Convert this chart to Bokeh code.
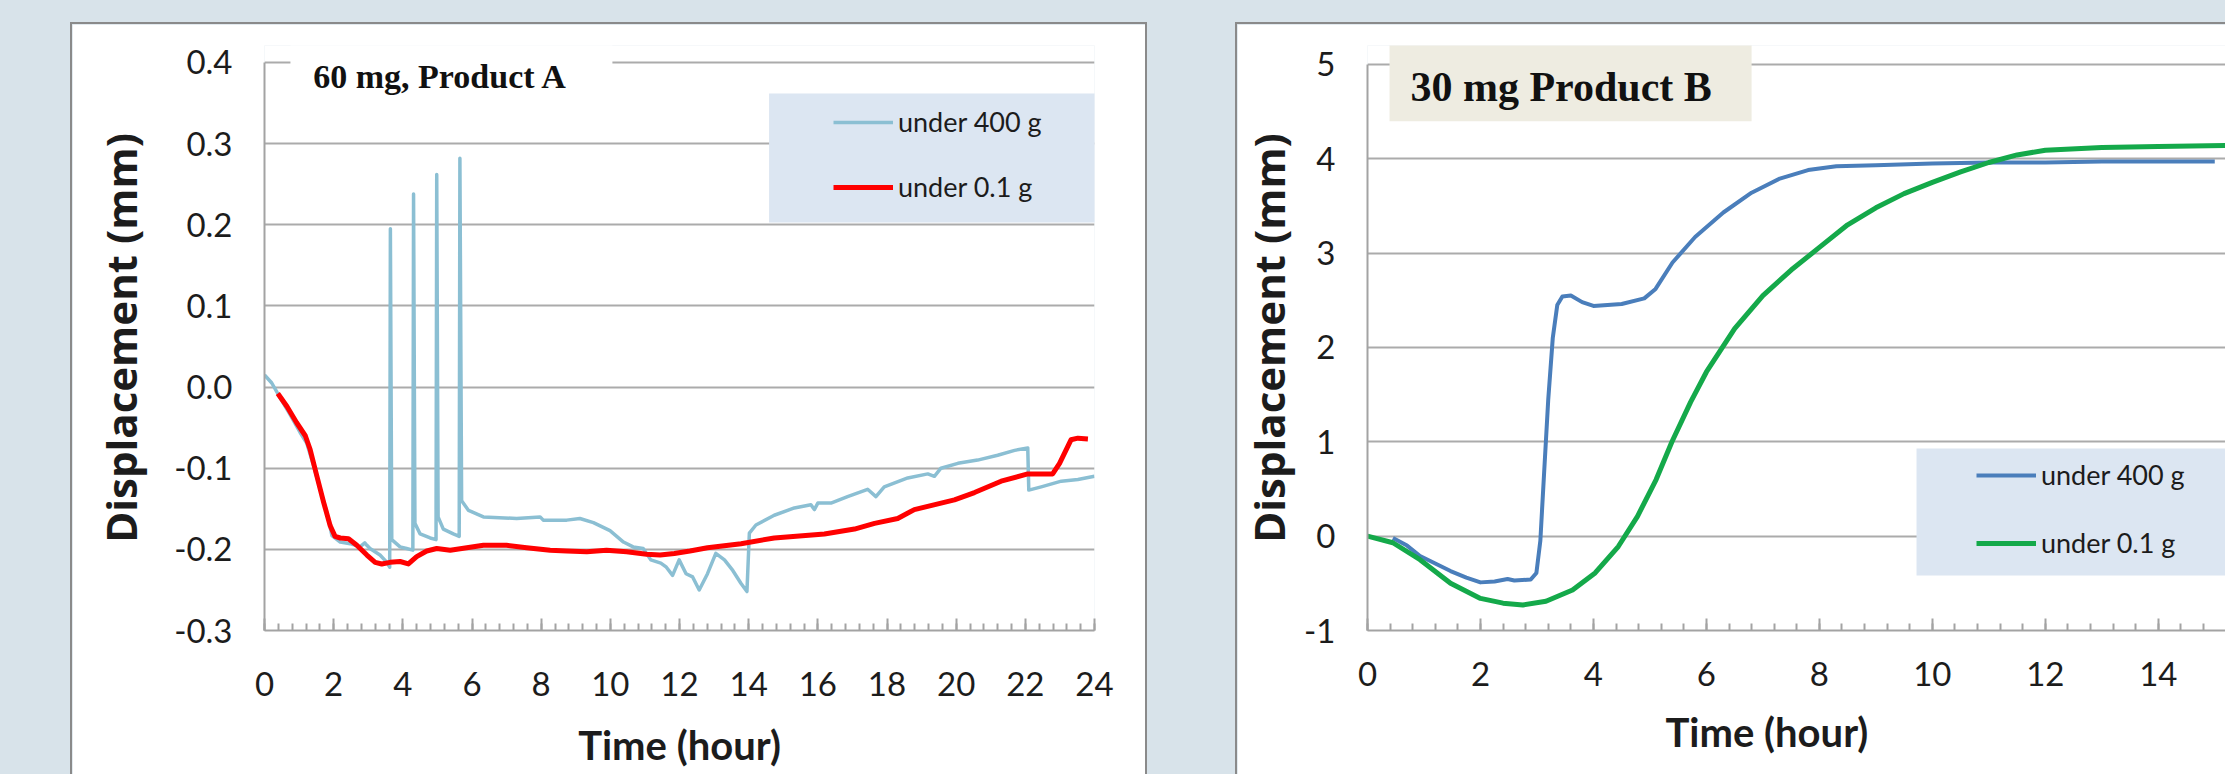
from bokeh.plotting import figure
from bokeh.layouts import row
from bokeh.models import (Range1d, FixedTicker, SingleIntervalTicker, PrintfTickFormatter,
                          Legend, LegendItem, BoxAnnotation, Label, Title, ColumnDataSource)
from bokeh.embed import file_html
from bokeh.resources import INLINE

# ---------------- Product A, 60 mg ----------------
a_time_400 = [0.00, 0.21, 0.45, 0.74, 1.03, 1.22, 1.42, 1.61, 1.80, 1.95, 2.19, 2.48, 2.76, 2.90,
              2.96, 3.05, 3.34, 3.54, 3.62, 3.64, 3.68, 3.92, 4.11, 4.29, 4.31, 4.35, 4.50, 4.79,
              4.96, 4.98, 5.02, 5.17, 5.46, 5.63, 5.65, 5.70, 5.90, 6.33, 7.29, 7.97, 8.06, 8.74,
              9.12, 9.51, 9.99, 10.38, 10.66, 10.95, 11.17, 11.46, 11.62, 11.80, 11.99, 12.19,
              12.38, 12.57, 12.81, 13.05, 13.30, 13.54, 13.78, 13.95, 14.02, 14.21, 14.74, 15.32,
              15.80, 15.90, 16.00, 16.38, 16.86, 17.44, 17.68, 17.92, 18.60, 19.18, 19.37, 19.56,
              20.05, 20.62, 21.20, 21.69, 22.07, 22.10, 22.46, 23.04, 23.52, 24.00]
a_disp_400 = [0.015, 0.005, -0.013, -0.034, -0.056, -0.069, -0.097, -0.126, -0.154, -0.183, -0.191,
              -0.193, -0.197, -0.192, -0.195, -0.199, -0.207, -0.216, -0.222, 0.195, -0.188, -0.197,
              -0.199, -0.201, 0.238, -0.168, -0.181, -0.186, -0.188, 0.262, -0.160, -0.175, -0.181,
              -0.184, 0.282, -0.140, -0.152, -0.160, -0.162, -0.160, -0.164, -0.164, -0.162, -0.167,
              -0.177, -0.191, -0.197, -0.199, -0.213, -0.217, -0.222, -0.232, -0.213, -0.230, -0.234,
              -0.250, -0.230, -0.205, -0.213, -0.226, -0.242, -0.252, -0.180, -0.170, -0.158, -0.149,
              -0.145, -0.151, -0.143, -0.143, -0.135, -0.126, -0.135, -0.123, -0.112, -0.107, -0.110,
              -0.100, -0.094, -0.090, -0.084, -0.078, -0.075, -0.127, -0.123, -0.116, -0.114, -0.110]

a_time_01 = [0.385, 0.65, 0.93, 1.18, 1.32, 1.51, 1.71, 1.90, 2.04, 2.19, 2.43, 2.67, 2.96, 3.20,
             3.39, 3.63, 3.92, 4.16, 4.40, 4.69, 4.98, 5.37, 5.85, 6.33, 7.00, 7.58, 8.26, 8.74,
             9.32, 9.89, 10.47, 11.05, 11.44, 11.85, 12.30, 12.81, 13.78, 14.74, 16.19, 17.06,
             17.64, 18.31, 18.79, 19.95, 20.53, 21.30, 22.07, 22.79, 22.99, 23.32, 23.52, 23.81]
a_disp_01 = [-0.008, -0.024, -0.044, -0.060, -0.077, -0.109, -0.142, -0.171, -0.184, -0.186, -0.187,
             -0.195, -0.207, -0.216, -0.218, -0.216, -0.215, -0.218, -0.209, -0.202, -0.199, -0.201,
             -0.198, -0.195, -0.195, -0.198, -0.201, -0.202, -0.203, -0.201, -0.203, -0.206, -0.207,
             -0.205, -0.202, -0.198, -0.193, -0.186, -0.181, -0.175, -0.168, -0.162, -0.151, -0.139,
             -0.130, -0.116, -0.107, -0.107, -0.094, -0.065, -0.063, -0.064]

# ---------------- Product B, 30 mg ----------------
b_time_400 = [0.45, 0.70, 0.93, 1.20, 1.47, 1.75, 2.00, 2.25, 2.48, 2.60, 2.89, 2.99, 3.06, 3.12,
              3.20, 3.28, 3.36, 3.45, 3.60, 3.80, 4.00, 4.50, 4.90, 5.10, 5.40, 5.80, 6.30, 6.80,
              7.30, 7.80, 8.30, 9.00, 10.0, 11.0, 12.0, 13.0, 14.0, 15.0]
b_disp_400 = [-0.02, -0.10, -0.21, -0.29, -0.37, -0.44, -0.49, -0.48, -0.455, -0.47, -0.46, -0.39,
              -0.05, 0.60, 1.45, 2.10, 2.45, 2.54, 2.55, 2.48, 2.44, 2.46, 2.52, 2.62, 2.90, 3.17,
              3.43, 3.64, 3.79, 3.88, 3.92, 3.93, 3.95, 3.96, 3.96, 3.97, 3.97, 3.97]

b_time_01 = [0.0, 0.45, 0.93, 1.47, 2.00, 2.40, 2.75, 3.16, 3.63, 4.03, 4.44, 4.78, 5.11, 5.39,
             5.72, 6.00, 6.50, 7.00, 7.50, 8.00, 8.50, 9.00, 9.50, 10.0, 10.5, 11.0, 11.5, 12.0,
             13.0, 14.0, 15.2]
b_disp_01 = [0.0, -0.07, -0.25, -0.50, -0.66, -0.71, -0.73, -0.69, -0.57, -0.39, -0.11, 0.21, 0.60,
             1.00, 1.42, 1.74, 2.20, 2.55, 2.82, 3.06, 3.30, 3.48, 3.63, 3.75, 3.86, 3.96, 4.04,
             4.09, 4.12, 4.13, 4.14]

a_y_ticks = [-0.3, -0.2, -0.1, 0.0, 0.1, 0.2, 0.3, 0.4]
b_y_ticks = [-1, 0, 1, 2, 3, 4, 5]
series_labels = ["under 400 g", "under 0.1 g"]
a_title = "60 mg, Product A"
b_title = "30 mg Product B"
x_title = "Time (hour)"
y_title = "Displacement (mm)"

PAGE_BG = "#d8e3ea"
GRID = "#ababab"
AXIS = "#a3a3a3"
TEXT = "#1c1c1c"
LEGEND_BG = "#dce6f2"
TICK_FONT = "Lato"


def base_figure(width, x_end, y_lo, y_hi, y_bounds, y_ticks, y_fmt, left, right):
    # both frames run from 45 px to 630 px below the panel top edge (panel starts at 24)
    p = figure(width=width, height=800, output_backend="svg", toolbar_location=None,
               x_range=Range1d(0, x_end), y_range=Range1d(y_lo, y_hi),
               min_border_left=left, min_border_right=right,
               min_border_top=21, min_border_bottom=194)
    p.background_fill_color = "white"
    p.border_fill_color = "white"
    p.outline_line_color = None
    p.xgrid.visible = False
    p.ygrid.grid_line_color = GRID
    p.ygrid.grid_line_width = 2

    p.xaxis.ticker = SingleIntervalTicker(interval=2, num_minor_ticks=5)
    p.yaxis.ticker = FixedTicker(ticks=y_ticks)
    p.yaxis.formatter = PrintfTickFormatter(format=y_fmt)
    p.yaxis.bounds = y_bounds
    for ax in (p.xaxis, p.yaxis):
        ax.axis_line_color = AXIS
        ax.axis_line_width = 2
        ax.major_tick_line_color = AXIS
        ax.minor_tick_line_color = AXIS
        ax.major_tick_line_width = 2
        ax.minor_tick_line_width = 2
        ax.major_label_text_font = TICK_FONT
        ax.major_label_text_font_size = "33px"
        ax.major_label_text_color = TEXT
    p.xaxis.major_tick_in = 12
    p.xaxis.major_tick_out = 0
    p.xaxis.minor_tick_in = 7
    p.xaxis.minor_tick_out = 0
    p.yaxis.major_tick_in = 0
    p.yaxis.major_tick_out = 0
    p.yaxis.minor_tick_in = 0
    p.yaxis.minor_tick_out = 0
    p.yaxis.major_label_standoff = 32
    p.yaxis.axis_label = y_title
    p.yaxis.axis_label_text_font = "Open Sans"
    p.yaxis.axis_label_text_font_style = "bold"
    p.yaxis.axis_label_text_font_size = "42px"
    p.yaxis.axis_label_text_color = TEXT
    return p


def add_legend(p, renderers, loc, spacing):
    items = [LegendItem(label=lab, renderers=[r]) for lab, r in zip(series_labels, renderers)]
    leg = Legend(items=items, location=loc, glyph_width=60, glyph_height=30, label_height=30,
                 label_standoff=5, spacing=spacing, padding=0, margin=0,
                 background_fill_alpha=0, border_line_color=None,
                 label_text_font=TICK_FONT, label_text_font_size="27px", label_text_color=TEXT)
    p.add_layout(leg)


# ---------- left panel ----------
p1 = base_figure(1073, 24, -0.3, 0.4209, (-0.3, 0.4), a_y_ticks, "%.1f", 192, 51)
p1.margin = (24, 0, 0, 72)
p1.styles = {"outline": "2px solid #8a8a8a"}
p1.yaxis.axis_label_standoff = 22
p1.xaxis.major_label_standoff = 41
p1.xaxis.axis_label = x_title
p1.xaxis.axis_label_text_font = TICK_FONT
p1.xaxis.axis_label_text_font_style = "bold"
p1.xaxis.axis_label_text_font_size = "40px"
p1.xaxis.axis_label_text_color = TEXT
p1.xaxis.axis_label_standoff = 22

# title patch hides the top grid line, legend panel sits over the grid
p1.add_layout(BoxAnnotation(left=0.75, right=10.06, bottom=0.36, top=0.43,
                            fill_color="white", fill_alpha=1, line_color=None))
p1.add_layout(BoxAnnotation(left=14.59, right=24.36, bottom=0.2028, top=0.3617,
                            fill_color=LEGEND_BG, fill_alpha=1, line_color=None))
p1.add_layout(Label(x=1.41, y=0.3827, text=a_title, text_font="Liberation Serif",
                    text_font_style="bold", text_font_size="34px", text_color="#111111",
                    text_baseline="alphabetic"))

src_a400 = ColumnDataSource(dict(t=a_time_400, d=a_disp_400))
src_a01 = ColumnDataSource(dict(t=a_time_01, d=a_disp_01))
ra1 = p1.line("t", "d", source=src_a400, line_color="#8bbfd3", line_width=3.5, line_join="round")
ra2 = p1.line("t", "d", source=src_a01, line_color="#ff0000", line_width=5, line_join="round")
add_legend(p1, [ra1, ra2], (569, 427), 32)

# ---------- right panel ----------
# the frame reaches a little above 5 so the title plate can overhang the top grid line
p2 = base_figure(988, 15.19, -1, 5.2, (-1, 5), b_y_ticks, "%d", 130, 0)
p2.margin = (24, 0, 0, 92)
p2.styles = {"outline": "2px solid #8a8a8a"}
p2.yaxis.axis_label_standoff = 4
p2.xaxis.major_label_standoff = 31

p2.add_layout(BoxAnnotation(left=0.39, right=6.8, bottom=4.398, top=5.3,
                            fill_color="#eeece1", fill_alpha=1, line_color=None))
p2.add_layout(BoxAnnotation(left=9.72, right=16.0, bottom=-0.417, top=0.929,
                            fill_color=LEGEND_BG, fill_alpha=1, line_color=None))
p2.add_layout(Label(x=0.76, y=4.76, text=b_title, text_font="Liberation Serif",
                    text_font_style="bold", text_font_size="42px", text_color="#111111",
                    text_baseline="alphabetic"))
p2.add_layout(Title(text=x_title, align="left", offset=298, vertical_align="top", standoff=38,
                    text_font=TICK_FONT, text_font_style="bold", text_font_size="40px",
                    text_color=TEXT), "below")

src_b400 = ColumnDataSource(dict(t=b_time_400, d=b_disp_400))
src_b01 = ColumnDataSource(dict(t=b_time_01, d=b_disp_01))
rb1 = p2.line("t", "d", source=src_b400, line_color="#4a7ebb", line_width=4, line_join="round")
rb2 = p2.line("t", "d", source=src_b01, line_color="#14a94a", line_width=5, line_join="round")
add_legend(p2, [rb1, rb2], (609, 71), 35)

root = row(p1, p2, styles={"background-color": PAGE_BG})

page_style = """
{% block postamble %}
<style>html, body { margin: 0; padding: 0; background: #d8e3ea; overflow: hidden; }</style>
{% endblock %}
"""
open("out.html", "w").write(file_html(root, INLINE, title="Displacement", template=page_style))
